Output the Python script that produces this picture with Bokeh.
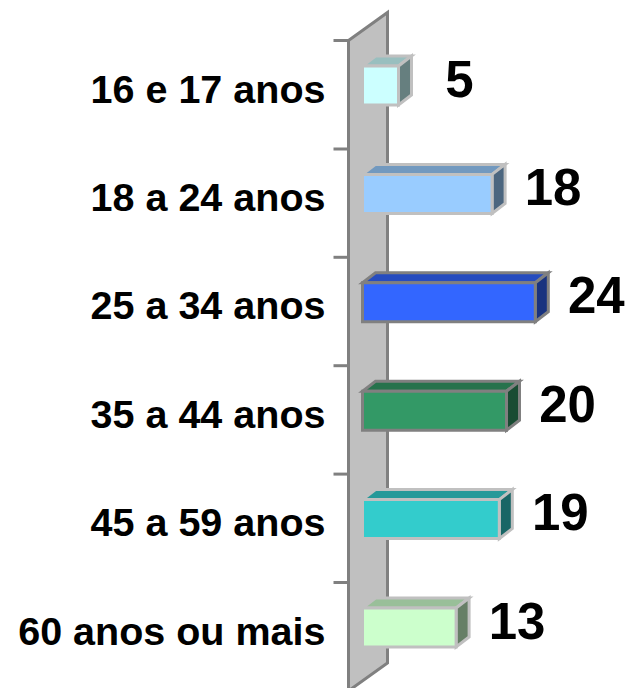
from bokeh.plotting import figure
from bokeh.models import Range1d
from bokeh.embed import file_html
from bokeh.resources import INLINE
from bokeh.core.properties import value

# ---- data ----
categories = ["16 e 17 anos", "18 a 24 anos", "25 a 34 anos",
              "35 a 44 anos", "45 a 59 anos", "60 anos ou mais"]
values = [5, 18, 24, 20, 19, 13]
bar_colors = ["#CCFFFF", "#99CCFF", "#3366FF", "#339966", "#33CCCC", "#CCFFCC"]
border_colors = ["#C0C0C0", "#C0C0C0", "#808080", "#808080", "#C0C0C0", "#C0C0C0"]

# ---- layout constants ----
W, H = 629, 688
PX_PER_UNIT = 7.2      # pixels per value unit
ZERO_PX = 362          # pixel position of value 0
ROW_PX = 108.4         # pixels per category row
ROW0_PX = 85           # pixel position of first row (front face centre)

DX = 13 / PX_PER_UNIT          # 3D depth, horizontal (value units)
DY = -10 / ROW_PX              # 3D depth, vertical (row units)
HH = 19.5 / ROW_PX             # half bar height (row units)

WALL_LEFT = (348 - ZERO_PX) / PX_PER_UNIT
WALL_RIGHT = (387 - ZERO_PX) / PX_PER_UNIT
WALL_SHIFT = -28 / ROW_PX
BOUND0 = (40 - ROW0_PX) / ROW_PX
TICK_LEN = 15 / PX_PER_UNIT


def shade(hex_color, f):
    h = hex_color.lstrip("#")
    r, g, b = (int(h[i:i + 2], 16) for i in (0, 2, 4))
    return "#%02x%02x%02x" % (int(r * f), int(g * f), int(b * f))


p = figure(width=W, height=H, output_backend="svg", toolbar_location=None,
           x_range=Range1d(-ZERO_PX / PX_PER_UNIT, (W - ZERO_PX) / PX_PER_UNIT),
           y_range=Range1d((H - ROW0_PX) / ROW_PX, -ROW0_PX / ROW_PX),
           x_axis_type=None, y_axis_type=None, min_border=0)
p.outline_line_color = None
p.grid.visible = False
p.background_fill_color = "white"
p.border_fill_color = "white"

n = len(categories)
rows = list(range(n))

# wall (3D axis plane)
b_top = BOUND0
b_bot = BOUND0 + n
p.patch([WALL_LEFT, WALL_RIGHT, WALL_RIGHT, WALL_LEFT],
        [b_top, b_top + WALL_SHIFT, b_bot + WALL_SHIFT, b_bot],
        fill_color="#C0C0C0", line_color="#808080", line_width=3,
        line_join="miter")

# ticks
bounds = [BOUND0 + k for k in range(n + 1)]
p.segment(x0=[WALL_LEFT - TICK_LEN] * len(bounds), y0=bounds,
          x1=[WALL_LEFT] * len(bounds), y1=bounds,
          line_color="#808080", line_width=3)

# 3D bars
for i, (v, c, bc) in enumerate(zip(values, bar_colors, border_colors)):
    y = rows[i]
    front_x = [0, v, v, 0]
    front_y = [y - HH, y - HH, y + HH, y + HH]
    top_x = [0, v, v + DX, DX]
    top_y = [y - HH, y - HH, y - HH + DY, y - HH + DY]
    side_x = [v, v + DX, v + DX, v]
    side_y = [y - HH, y - HH + DY, y + HH + DY, y + HH]
    p.patch(top_x, top_y, fill_color=shade(c, 0.75), line_color=bc,
            line_width=3, line_join="miter")
    p.patch(side_x, side_y, fill_color=shade(c, 0.5), line_color=bc,
            line_width=3, line_join="miter")
    p.patch(front_x, front_y, fill_color=c, line_color=bc,
            line_width=3, line_join="miter")

# category labels
p.text(x=[0] * n, y=rows, text=categories, x_offset=-37, y_offset=3,
       text_align="right", text_baseline="middle",
       text_font=value("Liberation Sans"), text_font_style="bold",
       text_font_size="39.5px", text_color="black")

# value labels
p.text(x=values, y=rows, text=[str(v) for v in values], x_offset=61, y_offset=-7,
       text_align="center", text_baseline="middle",
       text_font=value("Liberation Sans"), text_font_style="bold",
       text_font_size="51px", text_color="black")

open("out.html", "w").write(file_html(p, INLINE))
